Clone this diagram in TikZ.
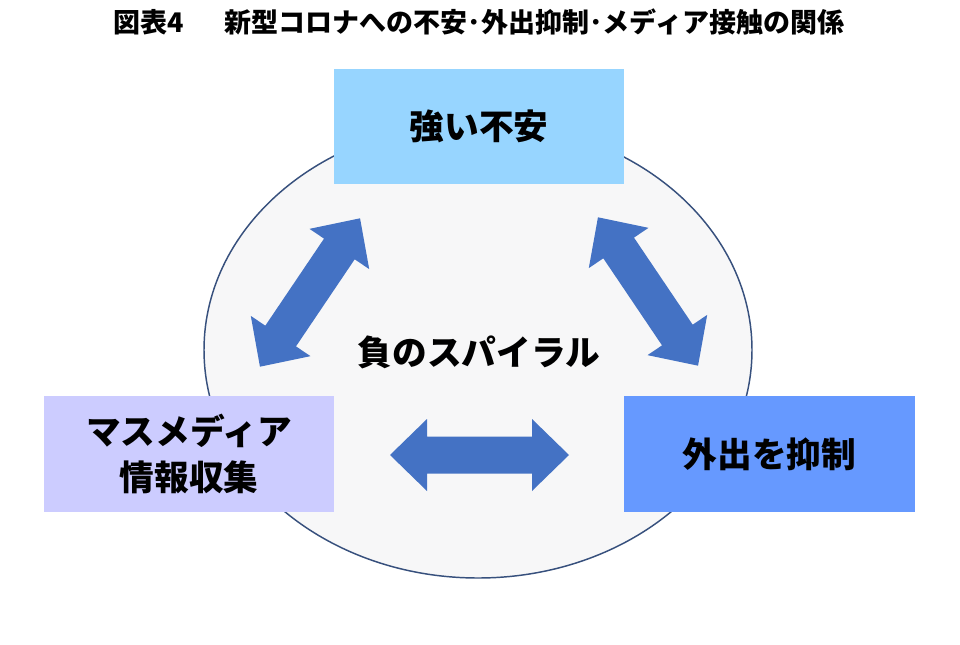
\documentclass[tikz,border=0pt]{standalone}
\usepackage{fontspec}
\newfontfamily\jp{Noto Sans CJK JP}
\usetikzlibrary{shapes.geometric}
\definecolor{topc}{RGB}{151,213,255}
\definecolor{leftc}{RGB}{204,204,255}
\definecolor{rightc}{RGB}{102,153,255}
\definecolor{arrowc}{RGB}{68,114,196}
\definecolor{ellfill}{RGB}{247,247,248}
\definecolor{ellline}{RGB}{55,80,125}
\tikzset{
  box/.style={rectangle, inner sep=0pt, draw=none, align=center,
    font=\jp\bfseries\fontsize{26pt}{35pt}\selectfont},
  dblarrow/.style={fill=arrowc, draw=none},
  lbl/.style={inner sep=0pt, font=\jp\bfseries\fontsize{26pt}{35pt}\selectfont}
}
\newcommand{\dblarrowpath}{(-89.5,0) -- (-52.5,36) -- (-52.5,18.5) -- (52.5,18.5) -- (52.5,36) -- (89.5,0) -- (52.5,-36) -- (52.5,-18.5) -- (-52.5,-18.5) -- (-52.5,-36) -- cycle}
\begin{document}
\begin{tikzpicture}[x=0.75pt,y=-0.75pt]
\useasboundingbox[fill=white] (0,0) rectangle (960,645);
% title
\node[inner sep=0pt, font=\jp\bfseries\fontsize{20.25pt}{24pt}\selectfont] (title) at (479,22)
  {図表4\hspace{1.5em}新型コロナへの不安･外出抑制･メディア接触の関係};
% ellipse
\node[ellipse, draw=ellline, line width=1.1pt, fill=ellfill, inner sep=0pt,
  minimum width=411pt, minimum height=342pt] (spiral) at (478,350) {};
% boxes
\node[box, fill=topc, minimum width=217.5pt, minimum height=86.25pt] (anx) at (479,126.5) {強い不安};
\node[box, fill=leftc, minimum width=217.5pt, minimum height=87pt] (media) at (189,454) {マスメディア\\情報収集};
\node[box, fill=rightc, minimum width=218.25pt, minimum height=87pt] (out) at (769.5,454) {外出を抑制};
% center label
\node[lbl] (lab) at (479,352) {負のスパイラル};
% arrows
\begin{scope}[shift={(310,292.5)}, rotate=56]
  \path[dblarrow] \dblarrowpath;
\end{scope}
\begin{scope}[shift={(648,291.5)}, rotate=-56]
  \path[dblarrow] \dblarrowpath;
\end{scope}
\begin{scope}[shift={(479.5,455)}]
  \path[dblarrow] \dblarrowpath;
\end{scope}
\end{tikzpicture}
\end{document}
